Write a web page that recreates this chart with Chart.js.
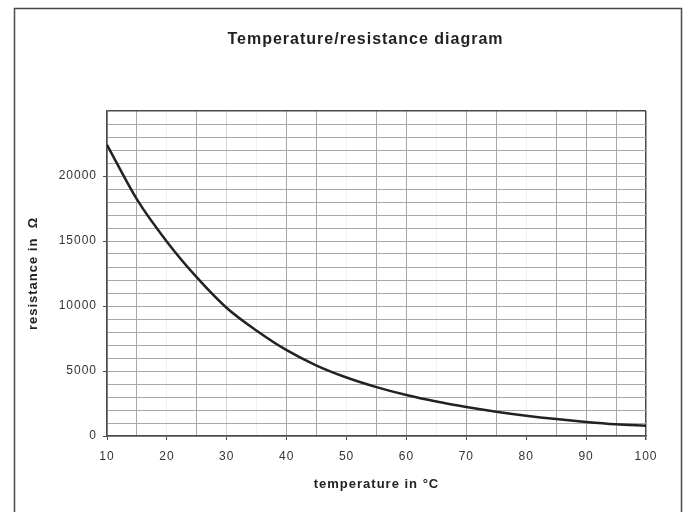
<!DOCTYPE html>
<html>
<head>
<meta charset="utf-8">
<script src="https://cdn.jsdelivr.net/npm/chart.js@4"></script>
<style>
  html, body { margin: 0; padding: 0; background: #fff; }
  #wrap { position: relative; width: 690px; height: 512px; }
</style>
</head>
<body>
<div id="wrap"><canvas id="c" width="690" height="512"></canvas></div>
<script>
// temperature (°C) vs. thermistor resistance (Ω)
const temperatures = [10, 15, 20, 25, 30, 35, 40, 45, 50, 55, 60, 65, 70, 75, 80, 85, 90, 95, 100];
const resistance = [22400, 18200, 14950, 12200, 9850, 8100, 6600, 5420, 4500, 3760, 3150, 2650, 2230, 1870, 1560, 1300, 1080, 900, 780];

const chartTitle = 'Temperature/resistance diagram';
const xLabelStep = 10;
const yLabelStep = 5000;
const yMax = 25000;

const FONT = "'Liberation Sans', Arial, sans-serif";
const GRID = '#a8a8a8';
const FRAME = '#4a4a4a';
// scan lost some vertical lines; keep those very faint
const fadedX = [20, 35, 50, 65, 80];

Chart.defaults.font.family = FONT;
Chart.defaults.color = '#333';

// outer frame + the heading (centred over the plot, like the scan), and the
// slightly wide lettering of the original
const frameAndTitle = {
  id: 'frameAndTitle',
  beforeDraw(chart) {
    const c = chart.ctx;
    c.save();
    c.fillStyle = '#fff';
    c.fillRect(0, 0, chart.width, chart.height);
    c.strokeStyle = FRAME;
    c.lineWidth = 1.5;
    c.strokeRect(14.5, 8.5, 667, 540);
    c.restore();
    c.letterSpacing = '1px';
  },
  afterDraw(chart) {
    const c = chart.ctx;
    c.save();
    c.letterSpacing = '1px';
    c.font = 'bold 16px ' + FONT;
    c.fillStyle = '#222';
    c.textAlign = 'center';
    c.textBaseline = 'middle';
    const a = chart.chartArea;
    c.fillText(chartTitle, (a.left + a.right) / 2 - 11, 40);
    c.restore();
  }
};

new Chart(document.getElementById('c'), {
  type: 'line',
  data: {
    datasets: [{
      data: temperatures.map((t, i) => ({ x: t, y: resistance[i] })),
      borderColor: '#222',
      borderWidth: 2.5,
      pointRadius: 0,
      cubicInterpolationMode: 'monotone',
      fill: false,
    }],
  },
  options: {
    responsive: false,
    animation: false,
    layout: { padding: { left: 26, right: 44, top: 111, bottom: 20 } },
    plugins: {
      legend: { display: false },
      tooltip: { enabled: false },
      title: { display: false },
    },
    scales: {
      x: {
        type: 'linear',
        min: 10,
        max: 100,
        afterFit: s => { s.height = 56; },
        grid: {
          color: ctx => {
            const v = ctx.tick && ctx.tick.value;
            if (v === 100) return FRAME;
            if (fadedX.includes(v)) return '#f1f1f1';
            if (v === 30) return '#d6d6d6';
            return GRID;
          },
          lineWidth: ctx => (ctx.tick && ctx.tick.value === 100 ? 1.5 : 1),
          tickColor: ctx => (ctx.tick && ctx.tick.value % xLabelStep === 0 ? FRAME : 'rgba(0,0,0,0)'),
          tickLength: 4,
        },
        border: { color: FRAME, width: 1.5 },
        ticks: {
          stepSize: 5,
          autoSkip: false,
          maxRotation: 0,
          padding: 9,
          font: { size: 12 },
          color: '#333',
          callback: v => (v % xLabelStep === 0 ? v : ''),
        },
        title: {
          display: true,
          text: 'temperature in °C',
          color: '#222',
          font: { size: 13, weight: 'bold' },
          padding: { top: 4, bottom: 0 },
        },
      },
      y: {
        min: 0,
        max: yMax,
        afterFit: s => { s.width = 81; },
        grid: {
          color: ctx => (ctx.tick && ctx.tick.value === yMax ? FRAME : GRID),
          lineWidth: ctx => (ctx.tick && ctx.tick.value === yMax ? 1.5 : 1),
          tickColor: ctx => (ctx.tick && ctx.tick.value % yLabelStep === 0 && ctx.tick.value < yMax ? FRAME : 'rgba(0,0,0,0)'),
          tickLength: 4,
        },
        border: { color: FRAME, width: 1.5 },
        ticks: {
          stepSize: 1000,
          autoSkip: false,
          padding: 6,
          font: { size: 12 },
          color: '#333',
          callback: v => (v % yLabelStep === 0 && v < yMax ? v : ''),
        },
        title: {
          display: true,
          text: 'resistance in  Ω',
          color: '#222',
          font: { size: 13, weight: 'bold' },
          padding: { top: 0, bottom: 4 },
        },
      },
    },
  },
  plugins: [frameAndTitle],
});
</script>
</body>
</html>
